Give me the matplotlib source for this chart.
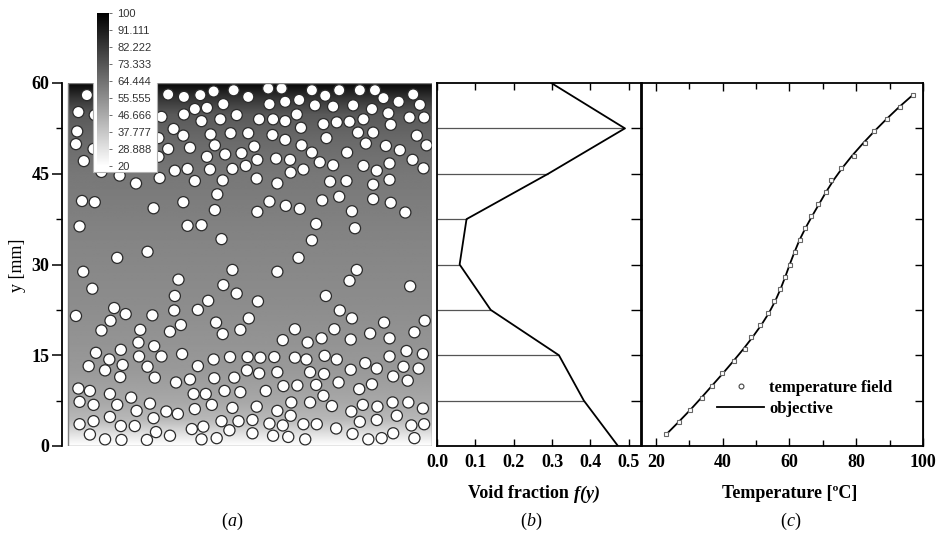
import matplotlib
matplotlib.use("Agg")
import matplotlib.pyplot as plt
from matplotlib.patches import Circle, Rectangle
from matplotlib.collections import PatchCollection
from matplotlib.lines import Line2D
from matplotlib.cm import ScalarMappable
from matplotlib.colors import Normalize
from matplotlib.ticker import FixedLocator, FormatStrFormatter
import numpy as np

plt.rcParams["font.family"] = "Liberation Serif"
plt.rcParams["font.weight"] = "bold"

W, H = 941, 541

# particle centres in the packed bed (mm)
PART_X = [
    3.1, 16.5, 19.1, 21.8, 24.0, 27.3, 29.7, 33.0, 35.2, 40.2, 42.4, 44.7, 48.1, 50.6, 52.0, 54.5, 56.9,
    1.7, 4.4, 15.4, 19.1, 20.9, 22.9, 25.6, 27.8, 31.5, 33.2, 33.8, 35.8, 35.8, 38.1, 37.7, 38.4, 40.7,
    43.7, 47.0, 50.1, 52.8, 56.3, 58.0, 58.7,
    1.5, 1.3, 17.4, 19.0, 22.0, 25.1, 23.5, 26.8, 29.7, 33.7, 42.1, 44.3, 46.4, 48.7, 42.6, 47.8, 50.3,
    53.2, 57.5, 14.9, 35.8,
    2.6, 4.2, 5.5, 16.5, 20.1, 22.9, 24.2, 25.9, 28.6, 30.7, 31.2, 34.3, 36.6, 38.5, 40.2, 41.5, 43.7,
    46.0, 49.1, 48.7, 52.4, 53.0, 54.7, 56.8, 59.1, 58.6, 14.9,
    8.5, 11.2, 15.1, 17.6, 19.7, 20.9, 23.4, 25.5, 27.1, 29.3, 31.1, 34.5, 36.7, 38.8, 43.2, 45.9, 50.3,
    50.9, 53.0,
    2.3, 4.4, 14.1, 19.0, 24.6, 24.2, 31.2, 33.2, 35.9, 38.2, 41.9, 44.7, 46.8, 50.3, 53.2, 55.6,
    1.9, 19.7, 22.0, 25.3, 40.2, 40.9, 47.3, 8.1, 13.1, 38.0,
    2.5, 27.1, 34.5, 47.6, 18.2, 4.0, 25.6, 27.8, 31.3, 42.5, 46.4, 56.4,
    1.3, 7.6, 7.0, 9.5, 5.5, 13.9, 17.6, 17.5, 16.8, 18.6, 11.9, 21.4, 23.1, 24.4, 25.5, 28.4, 29.8,
    35.4, 37.4, 39.5, 41.8, 43.9, 44.8, 46.8, 46.6, 49.8, 52.1, 53.0, 57.1, 58.8,
    4.6, 8.7, 11.6, 11.7, 14.2, 15.4, 18.8, 3.4, 6.8, 6.1, 9.0, 13.1, 8.6, 14.3, 21.4, 24.0, 26.7,
    29.6, 31.7, 34.0, 37.4, 39.3, 42.3, 44.3, 29.5, 31.5, 34.5, 39.9, 42.2, 46.6, 49.0, 50.9, 53.0,
    55.8, 58.5, 55.3, 57.8, 53.6, 56.0, 17.8, 20.1, 24.1, 27.4,
    1.7, 3.6, 6.9, 10.4, 8.1, 1.9, 4.2, 13.5, 16.2, 18.1, 20.7, 22.7, 25.8, 28.4, 32.6, 35.5, 37.8,
    40.9, 42.1, 44.6, 48.0, 50.1, 23.7, 20.9, 27.1, 31.1, 34.5, 36.8, 36.7, 39.9, 43.5, 46.7, 48.6,
    51.0, 53.5, 56.1, 58.5,
    1.9, 4.2, 6.9, 8.7, 11.0, 11.3, 14.1, 14.5, 16.8, 20.4, 22.3, 25.3, 28.1, 30.4, 26.6, 30.4, 33.2,
    35.4, 33.8, 36.3, 38.8, 41.0, 39.1, 44.2, 46.9, 48.1, 50.9, 54.2, 56.6, 58.7, 53.6, 51.7, 49.5,
    57.1, 3.6, 6.1, 8.8, 13.0, 22.0, 24.5,
]
PART_Y = [
    58.0, 58.1, 57.7, 58.0, 58.6, 58.8, 57.7, 59.1, 59.1, 58.8, 57.9, 58.8, 58.8, 58.8, 57.5, 56.9, 58.1,
    55.2, 54.7, 54.4, 54.8, 55.7, 55.9, 56.5, 54.7, 54.0, 56.5, 54.0, 56.9, 53.7, 57.2, 54.8, 52.6, 56.3,
    56.1, 56.3, 55.7, 55.0, 54.3, 56.4, 54.3,
    52.0, 49.9, 52.4, 51.3, 53.7, 54.0, 51.5, 51.7, 51.7, 51.4, 53.2, 53.5, 53.6, 54.0, 50.9, 51.8, 51.8,
    53.1, 51.3, 50.9, 50.6,
    47.1, 49.1, 45.3, 49.1, 49.3, 47.8, 49.7, 48.2, 48.4, 49.5, 47.3, 47.5, 47.3, 49.7, 48.5, 46.9, 46.4,
    48.5, 50.0, 46.3, 49.6, 46.7, 48.9, 47.3, 49.7, 45.9, 47.8,
    44.7, 43.4, 44.3, 45.5, 45.8, 43.8, 45.7, 43.9, 45.8, 46.3, 44.2, 43.4, 45.2, 45.7, 43.7, 43.8, 43.2,
    45.5, 44.0,
    40.5, 40.3, 39.3, 40.3, 41.6, 39.0, 38.7, 40.4, 39.7, 39.2, 40.6, 41.2, 38.8, 40.8, 40.2, 38.6,
    36.3, 36.4, 36.5, 34.2, 34.0, 36.7, 36.0, 31.1, 32.1, 31.1,
    28.8, 29.1, 28.8, 29.1, 27.5, 26.0, 26.6, 25.2, 23.9, 24.8, 27.3, 26.4,
    21.5, 22.8, 20.7, 21.8, 19.1, 21.6, 24.8, 22.4, 18.9, 20.0, 19.2, 22.5, 24.0, 20.4, 18.5, 19.2, 21.1,
    17.5, 19.3, 17.1, 17.8, 19.3, 22.4, 21.1, 17.6, 18.6, 20.4, 17.8, 18.8, 20.7,
    15.4, 15.9, 17.1, 14.8, 16.5, 14.8, 15.2, 13.2, 14.3, 12.5, 13.4, 13.1, 11.4, 11.3, 13.2, 14.3, 14.7,
    14.7, 14.6, 14.7, 14.6, 14.3, 14.9, 14.3, 12.5, 12.0, 12.2, 12.2, 11.9, 12.6, 13.7, 12.8, 14.8,
    15.7, 15.2, 13.1, 12.8, 11.5, 10.8, 10.5, 11.0, 11.2, 11.3,
    9.5, 9.1, 8.6, 8.0, 6.8, 7.3, 6.8, 7.0, 5.7, 5.3, 8.6, 8.6, 9.1, 8.9, 9.1, 9.9, 10.0,
    10.1, 8.3, 10.5, 9.4, 10.2, 6.8, 6.1, 6.3, 6.5, 5.8, 7.2, 5.0, 7.2, 6.6, 5.7, 6.8,
    6.5, 7.2, 7.2, 6.2,
    3.6, 4.1, 4.8, 3.3, 3.3, 5.8, 4.6, 2.3, 1.7, 2.8, 3.2, 4.1, 4.1, 4.3, 2.6, 2.1, 3.7,
    3.4, 1.7, 1.5, 3.6, 3.6, 1.1, 2.9, 2.0, 4.0, 4.3, 5.0, 3.4, 3.6, 2.1, 1.3, 1.1,
    1.3, 1.9, 1.1, 1.0, 1.0, 1.1, 1.3,
]
PART_R = 0.92

# temperature of the background field along the bed height
FIELD_Y = [0, 1.5, 4.3, 7.0, 12.5, 23.6, 33.8, 44.8, 50.3, 54.7, 57.5, 59.7, 60]
FIELD_T = [20, 27, 42, 47, 52, 56, 58.4, 62.5, 66.6, 72, 84, 97, 100]

CBAR_LABELS = ["100", "91.111", "82.222", "73.333", "64.444",
               "55.555", "46.666", "37.777", "28.888", "20"]

# void fraction profile
VOID_Y = [0, 7.5, 15, 22.5, 30, 37.5, 45, 52.5, 60]
VOID_F = [0.472, 0.383, 0.318, 0.140, 0.059, 0.077, 0.290, 0.490, 0.298]

# temperature profile
PROF_Y = [2, 4, 6, 8, 10, 12, 14, 16, 18, 20, 22, 24, 26, 28, 30,
          32, 34, 36, 38, 40, 42, 44, 46, 48, 50, 52, 54, 56, 58]
FIELD_MEAS = [23.1, 27.1, 30.4, 33.8, 36.8, 39.9, 43.4, 46.8, 48.6, 51.1, 53.6, 55.4, 57.1, 58.6, 60.1,
              61.7, 63.3, 64.8, 66.6, 68.7, 70.9, 72.6, 75.6, 79.4, 82.6, 85.4, 89.3, 93.1, 97.1]
OBJECTIVE = [23.3, 26.9, 30.4, 33.7, 36.9, 40.1, 43.2, 46.2, 49.0, 51.6, 53.9, 55.8, 57.4, 58.8, 60.1,
             61.5, 63.0, 64.8, 66.8, 68.9, 71.0, 73.3, 75.9, 78.8, 82.0, 85.4, 89.0, 92.8, 96.9]


def px_box(x0, y0, x1, y1):
    return [x0 / W, 1 - y1 / H, (x1 - x0) / W, (y1 - y0) / H]


def centred_runs(fig, xc, yc, runs, size):
    """Lay out differently styled text pieces side by side, centred on xc (px)."""
    r = fig.canvas.get_renderer()
    arts = [fig.text(0, 1 - yc / H, s, fontsize=size, fontstyle=st, fontweight=wt,
                     va="center", ha="left") for s, st, wt in runs]
    widths = [a.get_window_extent(r).width for a in arts]
    x = xc - sum(widths) / 2
    for a, w in zip(arts, widths):
        a.set_x(x / W)
        x += w


fig = plt.figure(figsize=(W / 100, H / 100), dpi=100)
cmap = plt.get_cmap("gray_r")
norm = Normalize(20, 100)

# ── (a) particle bed with temperature field ─────────────────────────────────
ax_a = fig.add_axes(px_box(62, 83, 432, 446))
ax_a.set_xlim(-1.0, 60)
ax_a.set_ylim(0, 60)
rows = np.linspace(0, 60, 600)
field = np.interp(rows, FIELD_Y, FIELD_T)[:, None]
ax_a.imshow(field, extent=(0, 60, 0, 60), origin="lower", aspect="auto",
            cmap=cmap, norm=norm, interpolation="bilinear", zorder=1)
ax_a.add_patch(Rectangle((0, 0), 60, 60, fill=False, ec="#808080", lw=1.0, zorder=4))
discs = [Circle((x, y), PART_R) for x, y in zip(PART_X, PART_Y)]
ax_a.add_collection(PatchCollection(discs, facecolor="white", edgecolor="#2b2b2b",
                                    linewidth=0.9, zorder=3))
# white panel behind the colour scale
ax_a.add_patch(Rectangle((4.1, 45.3), 10.6, 16, fc="white", ec="#b0b0b0", lw=0.8, zorder=5))
for s in ("top", "right", "bottom"):
    ax_a.spines[s].set_visible(False)
ax_a.spines["left"].set_linewidth(1.3)
ax_a.set_xticks([])
ax_a.yaxis.set_major_locator(FixedLocator([0, 15, 30, 45, 60]))
ax_a.yaxis.set_minor_locator(FixedLocator([7.5, 22.5, 37.5, 52.5]))
ax_a.tick_params(axis="y", which="major", direction="out", length=7, width=1.1,
                 labelsize=13, pad=2)
ax_a.tick_params(axis="y", which="minor", direction="out", length=4, width=1.0)
fig.text(18 / W, 1 - 265 / H, "y [mm]", rotation=90, fontsize=13, fontweight="normal",
         ha="center", va="center")

cax = fig.add_axes(px_box(97, 13, 109, 166))
cb = fig.colorbar(ScalarMappable(norm=norm, cmap=cmap), cax=cax)
cb.outline.set_visible(False)
cb.set_ticks([float(s) for s in CBAR_LABELS])
cb.set_ticklabels(CBAR_LABELS)
cax.tick_params(length=2, width=0.6, color="#555555", labelsize=8, pad=4,
                labelcolor="#333333")
for lbl in cax.get_yticklabels():
    lbl.set_fontfamily("Liberation Sans")
    lbl.set_fontweight("normal")

# ── (b) void fraction ───────────────────────────────────────────────────────
ax_b = fig.add_axes(px_box(437, 83, 641, 446))
ax_b.set_xlim(0, 0.532)
ax_b.set_ylim(0, 60)
ax_b.hlines(VOID_Y[1:-1], 0, VOID_F[1:-1], color="#555555", lw=0.9)
ax_b.plot(VOID_F, VOID_Y, color="black", lw=1.3)
ax_b.set_xticks([0, 0.1, 0.2, 0.3, 0.4, 0.5])
ax_b.xaxis.set_major_formatter(FormatStrFormatter("%.1f"))
ax_b.set_yticks([])
ax_b.tick_params(axis="x", direction="in", top=True, length=5, width=1.0,
                 labelsize=13, pad=6)
for s in ax_b.spines.values():
    s.set_linewidth(1.3)

# ── (c) temperature profile ─────────────────────────────────────────────────
ax_c = fig.add_axes(px_box(642, 83, 923, 446))
ax_c.set_xlim(15.9, 100)
ax_c.set_ylim(0, 60)
ax_c.plot(OBJECTIVE, PROF_Y, color="black", lw=1.3, zorder=3)
ax_c.plot(FIELD_MEAS, PROF_Y, ls="none", marker="s", ms=3.3, mfc="white",
          mec="#666666", mew=0.8, zorder=4)
ax_c.xaxis.set_major_locator(FixedLocator([20, 40, 60, 80, 100]))
ax_c.xaxis.set_minor_locator(FixedLocator([30, 50, 70, 90]))
ax_c.tick_params(axis="x", which="major", direction="in", top=True, length=6,
                 width=1.0, labelsize=13, pad=6)
ax_c.tick_params(axis="x", which="minor", direction="in", top=True, length=4, width=1.0)
ax_c.yaxis.set_major_locator(FixedLocator([7.5, 15, 22.5, 30, 37.5, 45, 52.5]))
ax_c.tick_params(axis="y", direction="out", left=True, right=False, length=8,
                 width=1.0, labelleft=False)
rax = ax_c.secondary_yaxis("right")
rax.set_yticks([7.5, 15, 22.5, 30, 37.5, 45, 52.5])
rax.tick_params(direction="in", length=6, width=1.0, labelright=False)
for s in ax_c.spines.values():
    s.set_linewidth(1.3)
handles = [Line2D([], [], ls="none", marker="o", ms=3.5, mfc="white", mec="#444444", mew=0.8),
           Line2D([], [], color="black", lw=1.3)]
ax_c.legend(handles, ["temperature field", "objective"], loc="lower right",
            bbox_to_anchor=(0.92, 0.057), frameon=False, fontsize=12,
            handlelength=2.8, handletextpad=0.3, labelspacing=0.3, borderpad=0)

# ── captions ────────────────────────────────────────────────────────────────
centred_runs(fig, 534, 494, [("Void fraction ", "normal", "bold"),
                             ("f(y)", "italic", "bold")], 13)
centred_runs(fig, 790, 494, [("Temperature [ºC]", "normal", "bold")], 13)
for xc, letter in ((232, "a"), (531, "b"), (790, "c")):
    centred_runs(fig, xc, 521, [("(", "normal", "normal"), (letter, "italic", "normal"),
                                (")", "normal", "normal")], 13)

fig.savefig("out.png", dpi=100, facecolor="white")
